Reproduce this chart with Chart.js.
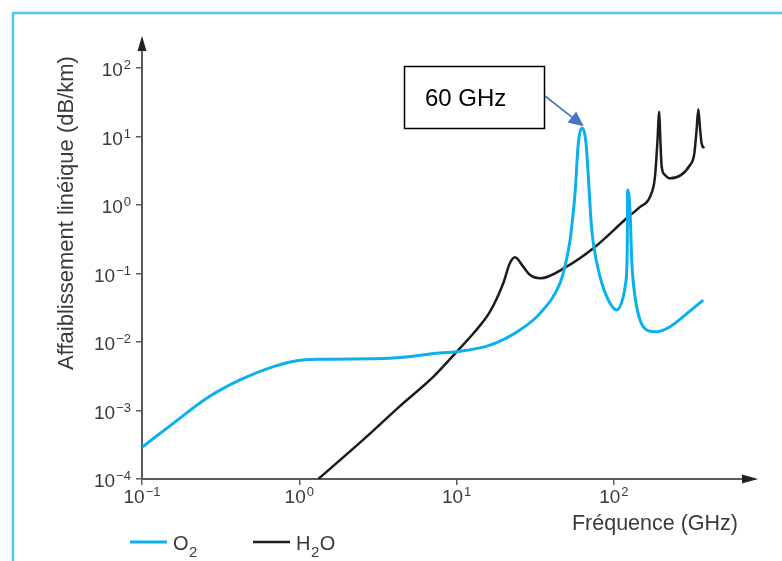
<!DOCTYPE html>
<html><head><meta charset="utf-8">
<script src="https://cdn.jsdelivr.net/npm/chart.js@4"></script>
<style>html,body{margin:0;padding:0;background:#fff}#wrap{width:782px;height:561px}</style>
</head><body><div id="wrap"><canvas id="c" width="782" height="561"></canvas></div>
<script>
// ---- data ----
const xTickExponents = [-1, 0, 1, 2];
const yTickExponents = [-4, -3, -2, -1, 0, 1, 2];
const seriesLabels = ['O₂', 'H₂O'];
const xAxisTitle = 'Fréquence (GHz)';
const yAxisTitle = 'Affaiblissement linéique (dB/km)';
const annotationText = '60 GHz';

const o2Freq = [0.1, 0.158, 0.258, 0.42, 0.684, 0.962, 1.35, 3.8, 7.8, 10, 16.3, 25.3, 33.9, 45.4, 49, 52.6, 54.5, 56.6, 59.4, 62.4, 66.5, 69.8, 71.5, 74.0, 81.6, 92.1, 104.2, 114.8, 118.5, 121.5, 122.3, 126.6, 129.8, 136.2, 146.6, 161.7, 187.1, 227.5, 305, 370];
const o2Att  = [2.9e-4, 6.5e-4, 1.51e-3, 2.79e-3, 4.36e-3, 5.33e-3, 5.6e-3, 5.8e-3, 6.9e-3, 7.2e-3, 9.0e-3, 0.015, 0.0262, 0.072, 0.13, 0.3, 0.6, 1.48, 7.96, 13.2, 7.96, 1.48, 0.6, 0.276, 0.0897, 0.041, 0.0293, 0.0458, 0.07, 0.2, 1.66, 0.845, 0.157, 0.0458, 0.0209, 0.015, 0.0141, 0.0167, 0.0284, 0.041];

const h2oFreq = [1.32, 2.5, 4.4, 7.1, 10, 12.8, 16.3, 19.8, 21.8, 23.5, 26.5, 29.3, 33.9, 50.1, 74.0, 120.5, 146.6, 169.7, 182.5, 188.8, 194.3, 197, 201.3, 211.3, 227.5, 305, 324, 335, 344, 352, 361, 374];
const h2oAtt  = [1e-4, 3.6e-4, 1.18e-3, 3.1e-3, 7.2e-3, 0.0134, 0.0277, 0.072, 0.141, 0.172, 0.126, 0.095, 0.085, 0.126, 0.233, 0.64, 0.94, 1.32, 2.59, 7.96, 23, 10, 3.62, 2.74, 2.45, 3.84, 5.5, 12, 25, 14, 7.96, 6.73];

// ---- styling ----
const FONT = '"Liberation Sans", Arial, Helvetica, sans-serif';
const O2_COLOR = '#0cb0ec';
const H2O_COLOR = '#1c1c1c';
const AXIS_COLOR = '#5c5c5c';
const TEXT_COLOR = '#3a3a3a';

const xMin = 0.1, xMax = Math.pow(10, 2.897);
const yMin = 1e-4, yMax = Math.pow(10, 2.409);

function pts(fs, as) { return fs.map((f, i) => ({x: f, y: as[i]})); }

function drawPow(ctx, e, x, baseY, align) {
  const base = '10';
  const ex = e < 0 ? '\u2212' + Math.abs(e) : String(e);
  ctx.font = '19px ' + FONT;
  const wb = ctx.measureText(base).width;
  ctx.font = '13px ' + FONT;
  const we = ctx.measureText(ex).width;
  const tot = wb + 1 + we;
  const sx = align === 'center' ? x - tot / 2 : x - tot;
  ctx.textAlign = 'left';
  ctx.textBaseline = 'alphabetic';
  ctx.fillStyle = TEXT_COLOR;
  ctx.font = '19px ' + FONT;
  ctx.fillText(base, sx, baseY);
  ctx.font = '13px ' + FONT;
  ctx.fillText(ex, sx + wb + 1, baseY - 7);
}

const decor = {
  id: 'decor',
  beforeDraw(chart) {
    const ctx = chart.ctx;
    ctx.save();
    ctx.fillStyle = '#fff';
    ctx.fillRect(0, 0, chart.width, chart.height);
    ctx.strokeStyle = '#56c4ef';
    ctx.lineWidth = 2.5;
    ctx.beginPath();
    ctx.moveTo(13, 561); ctx.lineTo(13, 13); ctx.lineTo(782, 13);
    ctx.stroke();
    ctx.restore();
  },
  afterDraw(chart) {
    const ctx = chart.ctx;
    const xs = chart.scales.x, ys = chart.scales.y;
    const ca = chart.chartArea;
    ctx.save();
    // axis arrows
    ctx.fillStyle = '#222';
    ctx.beginPath();
    ctx.moveTo(ca.left, ca.top - 4);
    ctx.lineTo(ca.left - 4.5, ca.top + 11);
    ctx.lineTo(ca.left + 4.5, ca.top + 11);
    ctx.closePath(); ctx.fill();
    ctx.beginPath();
    ctx.moveTo(ca.right + 3, ca.bottom);
    ctx.lineTo(ca.right - 13, ca.bottom - 4.5);
    ctx.lineTo(ca.right - 13, ca.bottom + 4.5);
    ctx.closePath(); ctx.fill();

    // tick labels
    xTickExponents.forEach(e => {
      drawPow(ctx, e, xs.getPixelForValue(Math.pow(10, e)), ca.bottom + 24, 'center');
    });
    yTickExponents.forEach(e => {
      drawPow(ctx, e, ca.left - 11, ys.getPixelForValue(Math.pow(10, e)) + 8, 'right');
    });

    // axis titles
    ctx.fillStyle = TEXT_COLOR;
    ctx.font = '21.5px ' + FONT;
    ctx.textAlign = 'right';
    ctx.textBaseline = 'alphabetic';
    ctx.fillText(xAxisTitle, 738, 530);
    ctx.save();
    ctx.translate(73, 213);
    ctx.rotate(-Math.PI / 2);
    ctx.textAlign = 'center';
    ctx.font = '22px ' + FONT;
    ctx.fillText(yAxisTitle, 0, 0);
    ctx.restore();

    // legend
    const legendItems = [
      {x: 130, color: O2_COLOR, w: 3, label: seriesLabels[0]},
      {x: 253, color: H2O_COLOR, w: 2.5, label: seriesLabels[1]}
    ];
    legendItems.forEach(it => {
      ctx.strokeStyle = it.color; ctx.lineWidth = it.w;
      ctx.beginPath(); ctx.moveTo(it.x, 542); ctx.lineTo(it.x + 37, 542); ctx.stroke();
      ctx.fillStyle = TEXT_COLOR;
      ctx.textAlign = 'left';
      let tx = it.x + 43;
      for (const ch of it.label) {
        if (ch === '₂') {
          ctx.font = '15px ' + FONT;
          ctx.fillText('2', tx, 557);
          tx += ctx.measureText('2').width + 0.5;
        } else {
          ctx.font = '20px ' + FONT;
          ctx.fillText(ch, tx, 550);
          tx += ctx.measureText(ch).width + 0.5;
        }
      }
    });

    // annotation
    let pk = 0;
    o2Att.forEach((v, i) => { if (v > o2Att[pk]) pk = i; });
    const px = xs.getPixelForValue(o2Freq[pk]);
    const py = ys.getPixelForValue(o2Att[pk]);
    ctx.strokeStyle = '#000'; ctx.lineWidth = 1.5;
    ctx.fillStyle = '#fff';
    ctx.fillRect(404, 66, 140, 62);
    ctx.strokeRect(404.5, 66.5, 140, 62);
    ctx.fillStyle = '#000';
    ctx.font = '24px ' + FONT;
    ctx.textAlign = 'left';
    ctx.fillText(annotationText, 425, 106);
    const sx = 545, sy = 96, tx2 = px + 2, ty2 = py - 2;
    const ang = Math.atan2(ty2 - sy, tx2 - sx);
    const hl = 15, hw = 7;
    const bx = tx2 - hl * Math.cos(ang), by = ty2 - hl * Math.sin(ang);
    ctx.strokeStyle = '#4472c4'; ctx.fillStyle = '#4472c4'; ctx.lineWidth = 1.6;
    ctx.beginPath(); ctx.moveTo(sx, sy); ctx.lineTo(bx, by); ctx.stroke();
    ctx.beginPath();
    ctx.moveTo(tx2, ty2);
    ctx.lineTo(bx + hw * Math.sin(ang), by - hw * Math.cos(ang));
    ctx.lineTo(bx - hw * Math.sin(ang), by + hw * Math.cos(ang));
    ctx.closePath(); ctx.fill();
    ctx.restore();
  }
};

new Chart(document.getElementById('c'), {
  type: 'line',
  data: {
    datasets: [
      {label: seriesLabels[0], data: pts(o2Freq, o2Att), borderColor: O2_COLOR, borderWidth: 3,
       pointRadius: 0, fill: false, cubicInterpolationMode: 'monotone'},
      {label: seriesLabels[1], data: pts(h2oFreq, h2oAtt), borderColor: H2O_COLOR, borderWidth: 2.5,
       pointRadius: 0, fill: false, cubicInterpolationMode: 'monotone'}
    ]
  },
  options: {
    responsive: false,
    animation: false,
    events: [],
    layout: {padding: {left: 0, top: 40, right: 27, bottom: 0}},
    plugins: {legend: {display: false}, tooltip: {enabled: false}, title: {display: false}},
    scales: {
      x: {
        type: 'logarithmic', min: xMin, max: xMax,
        afterBuildTicks: s => { s.ticks = xTickExponents.map(e => ({value: Math.pow(10, e)})); },
        afterFit: s => { s.height = 82; },
        ticks: {display: false},
        grid: {display: true, drawOnChartArea: false, drawTicks: true, tickLength: 6, color: AXIS_COLOR, lineWidth: 1.5},
        border: {display: true, color: AXIS_COLOR, width: 2}
      },
      y: {
        type: 'logarithmic', min: yMin, max: yMax,
        afterBuildTicks: s => { s.ticks = yTickExponents.map(e => ({value: Math.pow(10, e)})); },
        afterFit: s => { s.width = 142; },
        ticks: {display: false},
        grid: {display: true, drawOnChartArea: false, drawTicks: true, tickLength: 6, color: AXIS_COLOR, lineWidth: 1.5},
        border: {display: true, color: AXIS_COLOR, width: 2}
      }
    }
  },
  plugins: [decor]
});
</script></body></html>
